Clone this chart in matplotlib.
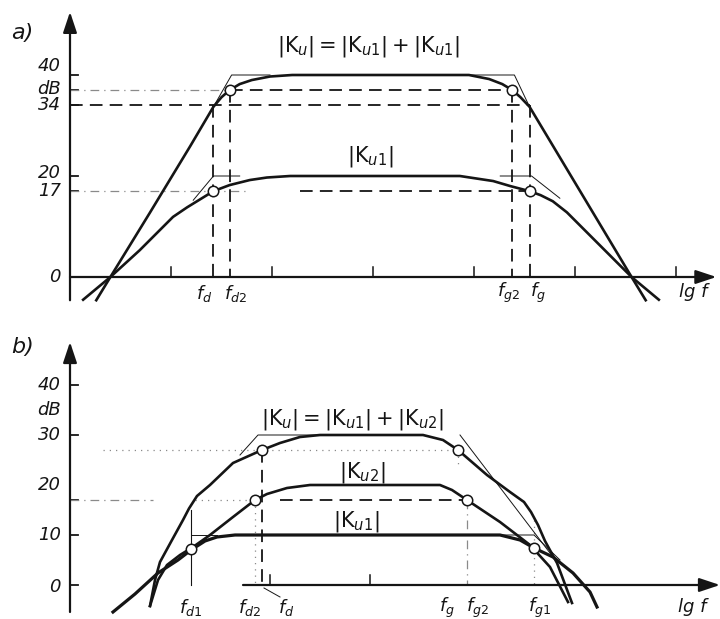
import matplotlib.pyplot as plt

plt.rcParams.update({"font.family": "DejaVu Sans", "mathtext.fontset": "dejavusans"})

W, H = 720, 619
INK = "#151515"
FAINT = "#8a8a8a"

# ---- a) two identical stages: lg f in decades from the ordinate, gain in dB ----
A_KU_F = [0.26, 0.40, 0.79, 1.19, 1.42, 1.50, 1.58, 1.68, 1.80, 1.98, 2.20,
          3.95, 4.15, 4.28, 4.38, 4.46, 4.55, 5.56, 5.70]
A_KU_DB = [-4.6, 0.0, 12.7, 25.9, 33.7, 35.6, 37.0, 38.2, 39.0, 39.7, 40.0,
           40.0, 39.2, 38.2, 37.0, 35.6, 33.7, 0.0, -4.6]
A_KU1_F = [0.13, 0.40, 0.69, 1.02, 1.16, 1.29, 1.42, 1.58, 1.78, 1.95, 2.18,
           3.86, 4.19, 4.36, 4.55, 4.66, 4.78, 4.92, 5.56, 5.83]
A_KU1_DB = [-4.5, 0.0, 5.3, 11.9, 13.8, 15.4, 17.0, 18.2, 19.2, 19.7, 20.0,
            20.0, 19.0, 18.0, 17.0, 16.2, 15.0, 12.8, 0.0, -4.5]
A_FREQ = {"fd": 1.42, "fd2": 1.58, "fg2": 4.38, "fg": 4.55}
A_LEVELS = {"top3": 37, "top6": 34, "one3": 17}
A_YTICKS = [40, 37, 34, 20, 17, 0]
A_YLABELS = ["40", "dB", "34", "20", "17", "0"]
A_YLABEL_AT = [41.8, 37.3, 34.0, 20.6, 17.0, 0.0]
A_XTICKS = [1, 2, 3, 4, 5, 6]
A_FLABELS = [r"$f_d$", r"$f_{d2}$", r"$f_{g2}$", r"$f_g$"]
A_FLABEL_AT = [1.33, 1.64, 4.34, 4.63]

# ---- b) stages with different gain and bandwidth ----
B_KU_F = [0.80, 0.85, 0.90, 1.02, 1.13, 1.19, 1.27, 1.40, 1.63, 1.92, 2.10, 2.30, 2.50,
          3.53, 3.73, 3.88, 4.17, 4.40, 4.54, 4.61, 4.68, 4.75, 4.87, 5.02]
B_KU_DB = [-4.2, 1.0, 4.6, 9.0, 13.0, 15.3, 17.8, 20.0, 24.4, 27.0, 28.4, 29.6, 30.0,
           30.0, 29.0, 27.0, 22.0, 18.6, 16.6, 14.6, 12.0, 8.8, 4.4, -3.6]
B_KU2_F = [0.80, 0.88, 0.97, 1.10, 1.23, 1.40, 1.63, 1.85, 1.97, 2.17, 2.40,
           3.70, 3.82, 3.97, 4.15, 4.30, 4.60, 4.80, 4.98]
B_KU2_DB = [-4.2, 1.0, 4.0, 6.0, 7.6, 10.0, 13.6, 17.0, 18.2, 19.4, 20.0,
            20.0, 19.0, 17.0, 14.6, 12.6, 8.0, 3.6, -3.4]
B_KU1_F = [0.43, 0.65, 0.88, 1.08, 1.21, 1.35, 1.47, 1.65,
           4.30, 4.50, 4.64, 4.83, 5.03, 5.20, 5.27]
B_KU1_DB = [-5.4, -1.8, 2.4, 5.0, 7.0, 8.8, 9.6, 10.0,
            10.0, 9.0, 7.4, 5.6, 2.4, -1.4, -4.4]
B_FREQ = {"fd1": 1.21, "fd2": 1.85, "fd": 1.92, "fg": 3.88, "fg2": 3.97, "fg1": 4.64}
B_LEVELS = {"sum3": 27, "two3": 17}
B_YTICKS = [40, 30, 17, 10, 0]
B_YLABELS = ["40", "dB", "30", "20", "10", "0"]
B_YLABEL_AT = [40, 35, 30, 20, 10, -0.4]
B_XTICKS = [2, 3]
B_FLABELS = [r"$f_{d1}$", r"$f_{d2}$", r"$f_d$", r"$f_g$", r"$f_{g2}$", r"$f_{g1}$"]
B_FLABEL_AT = [1.21, 1.80, 2.16, 3.77, 4.08, 4.70]


def make_axes(fig, box, origin, scale):
    """Axes on a pixel box; origin is the pixel of (lg f = 0, 0 dB)."""
    left, top, right, bottom = box
    x0, y0 = origin
    sx, sy = scale
    ax = fig.add_axes([left / W, 1 - bottom / H, (right - left) / W, (bottom - top) / H])
    ax.set_xlim((left - x0) / sx, (right - x0) / sx)
    ax.set_ylim((y0 - bottom) / sy, (y0 - top) / sy)
    ax.axis("off")
    return ax


def arrow_axes(ax, xspan, yspan):
    kw = dict(arrowstyle="-|>,head_length=0.9,head_width=0.3", lw=1.6, color=INK,
              shrinkA=0, shrinkB=0, mutation_scale=14)
    ax.annotate("", xy=(xspan[1], 0), xytext=(xspan[0], 0), arrowprops=kw)
    ax.annotate("", xy=(0, yspan[1]), xytext=(0, yspan[0]), arrowprops=kw)


def hline(ax, y, x0, x1, style="dash"):
    if style == "dash":
        ax.plot([x0, x1], [y, y], color=INK, lw=1.3, ls=(0, (7, 4)))
    elif style == "dashdot":
        ax.plot([x0, x1], [y, y], color=FAINT, lw=0.9, ls=(0, (7, 4, 1, 4)))
    else:
        ax.plot([x0, x1], [y, y], color=FAINT, lw=0.9, ls=(0, (1, 4)))


def vline(ax, x, y0, y1, style="dash"):
    if style == "dash":
        ax.plot([x, x], [y0, y1], color=INK, lw=1.3, ls=(0, (7, 4)))
    elif style == "dashdot":
        ax.plot([x, x], [y0, y1], color=FAINT, lw=0.9, ls=(0, (7, 4, 1, 4)))
    elif style == "thin":
        ax.plot([x, x], [y0, y1], color=INK, lw=0.8)
    else:
        ax.plot([x, x], [y0, y1], color=FAINT, lw=0.9, ls=(0, (1, 4)))


def thin(ax, xs, ys):
    ax.plot(xs, ys, color=INK, lw=0.7)


def ring(ax, x, y):
    ax.plot(x, y, "o", ms=7.5, mfc="white", mec=INK, mew=1.1, zorder=5)


def yticks(ax, ticks, labels, label_at):
    for v in ticks:
        ax.plot([0, 0.08], [v, v], color=INK, lw=1.3)
    for lab, v in zip(labels, label_at):
        ax.text(-0.09, v, lab, ha="right", va="center", fontsize=13, style="italic",
                color=INK)


def xticks(ax, ticks):
    for v in ticks:
        ax.plot([v, v], [0, 2.0], color=INK, lw=1.1)


fig = plt.figure(figsize=(W / 100, H / 100), dpi=100)
fig.patch.set_facecolor("white")

# ------------------------------ panel a) ------------------------------
ax = make_axes(fig, (0, 0, 720, 312), (70, 277), (101, 5.05))
arrow_axes(ax, (0, 6.4), (-4.6, 52.5))
yticks(ax, A_YTICKS, A_YLABELS, A_YLABEL_AT)
xticks(ax, A_XTICKS)

fd, fd2, fg2, fg = A_FREQ["fd"], A_FREQ["fd2"], A_FREQ["fg2"], A_FREQ["fg"]
hline(ax, A_LEVELS["top3"], 0, fd2, "dashdot")
hline(ax, A_LEVELS["top3"], fd2, fg2)
hline(ax, A_LEVELS["top6"], 0, fg)
hline(ax, A_LEVELS["one3"], 0, 1.73, "dashdot")
hline(ax, A_LEVELS["one3"], 2.28, fg)
vline(ax, fd, A_LEVELS["top6"], 0)
vline(ax, fd2, A_LEVELS["top3"], 0)
vline(ax, fg2, A_LEVELS["top3"], 0)
vline(ax, fg, A_LEVELS["top6"], 0)

# straight-line asymptotes round the corners
thin(ax, [1.42, 1.60, 1.98], [33.7, 40, 40])
thin(ax, [3.86, 4.40, 4.55], [40, 40, 33.7])
thin(ax, [1.22, 1.42, 1.68], [15.2, 20, 20])
thin(ax, [4.26, 4.57, 4.85], [20, 20, 15.6])

ax.plot(A_KU_F, A_KU_DB, color=INK, lw=1.9, solid_joinstyle="round")
ax.plot(A_KU1_F, A_KU1_DB, color=INK, lw=1.9, solid_joinstyle="round")
ring(ax, fd2, A_LEVELS["top3"])
ring(ax, fg2, A_LEVELS["top3"])
ring(ax, fd, A_LEVELS["one3"])
ring(ax, fg, A_LEVELS["one3"])

for lab, x in zip(A_FLABELS, A_FLABEL_AT):
    ax.text(x, -3.2, lab, ha="center", va="center", fontsize=13, color=INK)
ax.text(6.17, -3.0, "lg f", ha="center", va="center", fontsize=13, style="italic", color=INK)
ax.text(2.95, 45.6, r"$|\mathrm{K}_u| = |\mathrm{K}_{u1}| + |\mathrm{K}_{u1}|$",
        ha="center", va="center", fontsize=15, color=INK)
ax.text(2.97, 23.8, r"$|\mathrm{K}_{u1}|$", ha="center", va="center", fontsize=15, color=INK)
ax.text(-0.47, 48.3, "a)", ha="center", va="center", fontsize=16, style="italic", color=INK)

# ------------------------------ panel b) ------------------------------
ax = make_axes(fig, (0, 312, 720, 619), (70, 585), (100, 5.0))
arrow_axes(ax, (1.73, 6.5), (-5.4, 48.6))
yticks(ax, B_YTICKS, B_YLABELS, B_YLABEL_AT)
xticks(ax, B_XTICKS)

hline(ax, B_LEVELS["sum3"], 0.33, B_FREQ["fg"], "dot")
hline(ax, B_LEVELS["two3"], 0, 0.83, "dashdot")
hline(ax, B_LEVELS["two3"], 1.25, B_FREQ["fd2"], "dot")
hline(ax, B_LEVELS["two3"], 2.10, B_FREQ["fg2"])
vline(ax, B_FREQ["fd1"], 15.0, 0, "thin")
vline(ax, B_FREQ["fd2"], B_LEVELS["two3"], 0, "dot")
vline(ax, B_FREQ["fd"], B_LEVELS["sum3"], -0.4)
vline(ax, B_FREQ["fg"], B_LEVELS["sum3"], 24.0, "dot")
vline(ax, B_FREQ["fg2"], B_LEVELS["two3"], 0, "dashdot")
vline(ax, B_FREQ["fg1"], 13.0, 0, "dot")
thin(ax, [B_FREQ["fd"] + 0.02, 2.10], [-0.6, -2.4])

thin(ax, [1.70, 1.88, 2.47], [26, 30, 30])
thin(ax, [3.90, 4.83], [30, 5.6])
thin(ax, [1.21, 1.47], [10, 10])
thin(ax, [4.30, 4.64, 4.90], [10, 10, 5.0])

ax.plot(B_KU_F, B_KU_DB, color=INK, lw=1.9, solid_joinstyle="round")
ax.plot(B_KU2_F, B_KU2_DB, color=INK, lw=1.9, solid_joinstyle="round")
ax.plot(B_KU1_F, B_KU1_DB, color=INK, lw=2.3, solid_joinstyle="round")
ring(ax, B_FREQ["fd"], B_LEVELS["sum3"])
ring(ax, B_FREQ["fg"], B_LEVELS["sum3"])
ring(ax, B_FREQ["fd2"], B_LEVELS["two3"])
ring(ax, B_FREQ["fg2"], B_LEVELS["two3"])
ring(ax, B_FREQ["fd1"], 7.2)
ring(ax, B_FREQ["fg1"], 7.4)

for lab, x in zip(B_FLABELS, B_FLABEL_AT):
    ax.text(x, -4.6, lab, ha="center", va="center", fontsize=13, color=INK)
ax.text(6.22, -4.4, "lg f", ha="center", va="center", fontsize=13, style="italic", color=INK)
ax.text(2.82, 33.0, r"$|\mathrm{K}_u| = |\mathrm{K}_{u1}| + |\mathrm{K}_{u2}|$",
        ha="center", va="center", fontsize=15, color=INK)
ax.text(2.92, 22.5, r"$|\mathrm{K}_{u2}|$", ha="center", va="center", fontsize=15, color=INK)
ax.text(2.86, 12.8, r"$|\mathrm{K}_{u1}|$", ha="center", va="center", fontsize=15, color=INK)
ax.text(-0.47, 47.6, "b)", ha="center", va="center", fontsize=16, style="italic", color=INK)

fig.savefig("out.png", dpi=100, facecolor="white")
